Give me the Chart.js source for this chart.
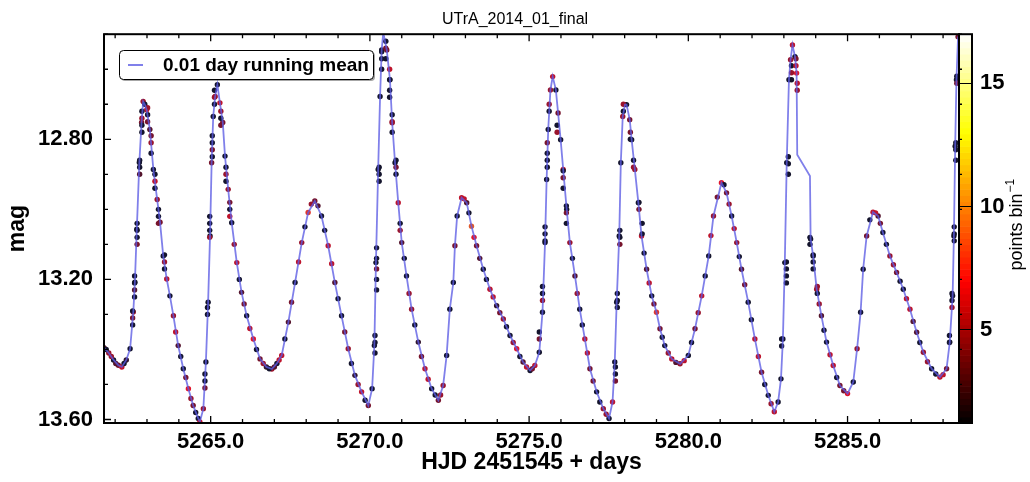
<!DOCTYPE html>
<html>
<head>
<meta charset="utf-8">
<script src="https://cdn.jsdelivr.net/npm/chart.js@4.4.1/dist/chart.umd.min.js"></script>
<style>
  html, body { margin: 0; padding: 0; background: #fff; }
  #wrap { width: 1030px; height: 482px; position: relative; }
</style>
</head>
<body>
<div id="wrap"><canvas id="lc"></canvas></div>
<script>
// axis ranges and tick labels
const plotTitle = "UTrA_2014_01_final";
const xMin = 5261.65, xMax = 5288.50;
const yMin = 12.50, yMax = 13.61;
const cbMin = 1.2, cbMax = 17;
const xTicks = [5265, 5270, 5275, 5280, 5285];
const yTicks = [12.80, 13.20, 13.60];
const cbTicks = [5, 10, 15];

// 0.01 day running mean (HJD-2451545, mag)
const curveTime = [
  5261.65, 5261.80, 5261.95, 5262.10, 5262.21, 5262.35, 5262.47, 5262.57, 5262.62, 5262.68,
  5262.76, 5262.83, 5262.88, 5262.93, 5262.99, 5263.09, 5263.20, 5263.32, 5263.41, 5263.51,
  5263.62, 5263.72, 5263.83, 5263.98, 5264.14, 5264.30, 5264.45, 5264.61, 5264.66, 5264.77,
  5264.85, 5264.92, 5264.98, 5265.03, 5265.08, 5265.14, 5265.21, 5265.29, 5265.38, 5265.45,
  5265.55, 5265.66, 5265.82, 5265.97, 5266.13, 5266.34, 5266.55, 5266.75, 5266.92, 5267.08,
  5267.23, 5267.44, 5267.65, 5267.86, 5268.06, 5268.27, 5268.48, 5268.69, 5268.90, 5269.11,
  5269.32, 5269.53, 5269.74, 5269.95, 5270.07, 5270.14, 5270.19, 5270.26, 5270.32, 5270.37,
  5270.42, 5270.53, 5270.63, 5270.70, 5270.79, 5270.89, 5271.00, 5271.15, 5271.31, 5271.52,
  5271.73, 5271.94, 5272.15, 5272.30, 5272.41, 5272.51, 5272.62, 5272.67, 5272.74, 5272.88,
  5273.04, 5273.19, 5273.35, 5273.56, 5273.77, 5273.98, 5274.19, 5274.40, 5274.61, 5274.81,
  5275.03, 5275.18, 5275.32, 5275.42, 5275.50, 5275.55, 5275.60, 5275.67, 5275.74, 5275.84,
  5275.91, 5275.99, 5276.07, 5276.18, 5276.28, 5276.44, 5276.59, 5276.75, 5276.91, 5277.12,
  5277.33, 5277.51, 5277.62, 5277.69, 5277.75, 5277.83, 5277.88, 5277.94, 5278.01, 5278.06,
  5278.16, 5278.22, 5278.32, 5278.43, 5278.53, 5278.69, 5278.85, 5279.00, 5279.11, 5279.26,
  5279.48, 5279.74, 5280.00, 5280.21, 5280.42, 5280.64, 5280.79, 5281.04, 5281.20, 5281.36,
  5281.52, 5281.67, 5281.88, 5282.09, 5282.30, 5282.51, 5282.70, 5282.82, 5282.91, 5282.97,
  5283.03, 5283.09, 5283.16, 5283.21, 5283.27, 5283.35, 5283.40, 5283.42, 5283.82, 5283.84,
  5283.92, 5284.03, 5284.18, 5284.34, 5284.55, 5284.76, 5285.00, 5285.18, 5285.30, 5285.41,
  5285.49, 5285.60, 5285.80, 5285.96, 5286.11, 5286.33, 5286.54, 5286.75, 5286.96, 5287.17,
  5287.38, 5287.64, 5287.90, 5288.11, 5288.21, 5288.30, 5288.34, 5288.38, 5288.42, 5288.47
];
const curveMag = [
  13.395, 13.410, 13.430, 13.445, 13.450, 13.430, 13.398, 13.293, 13.208, 13.057,
  12.866, 12.752, 12.692, 12.700, 12.716, 12.772, 12.886, 12.972, 13.037, 13.133,
  13.199, 13.247, 13.304, 13.389, 13.455, 13.512, 13.560, 13.597, 13.607, 13.569,
  13.436, 13.265, 13.076, 12.867, 12.735, 12.678, 12.644, 12.696, 12.752, 12.848,
  12.943, 13.038, 13.152, 13.237, 13.304, 13.370, 13.427, 13.450, 13.456, 13.440,
  13.417, 13.322, 13.209, 13.095, 13.009, 12.976, 13.019, 13.104, 13.209, 13.304,
  13.398, 13.474, 13.521, 13.560, 13.512, 13.389, 13.152, 12.886, 12.678, 12.545,
  12.495, 12.545, 12.630, 12.753, 12.867, 12.981, 13.095, 13.190, 13.285, 13.379,
  13.455, 13.512, 13.545, 13.503, 13.417, 13.285, 13.209, 13.104, 13.019, 12.967,
  12.981, 13.048, 13.104, 13.171, 13.228, 13.275, 13.313, 13.360, 13.398, 13.436,
  13.460, 13.446, 13.408, 13.294, 13.095, 12.915, 12.772, 12.659, 12.621, 12.659,
  12.725, 12.801, 12.886, 13.000, 13.095, 13.190, 13.285, 13.370, 13.455, 13.521,
  13.569, 13.597, 13.550, 13.436, 13.265, 13.076, 12.867, 12.735, 12.701, 12.701,
  12.744, 12.801, 12.886, 12.981, 13.076, 13.171, 13.247, 13.294, 13.341, 13.389,
  13.427, 13.441, 13.417, 13.341, 13.247, 13.133, 13.019, 12.924, 12.953, 13.019,
  13.095, 13.171, 13.265, 13.370, 13.465, 13.531, 13.578, 13.550, 13.484, 13.370,
  13.152, 12.867, 12.630, 12.573, 12.531, 12.564, 12.611, 12.844, 12.905, 13.085,
  13.133, 13.228, 13.304, 13.379, 13.446, 13.503, 13.526, 13.493, 13.398, 13.294,
  13.171, 13.076, 13.008, 13.019, 13.066, 13.133, 13.180, 13.228, 13.285, 13.351,
  13.408, 13.455, 13.479, 13.455, 13.379, 13.247, 13.076, 12.820, 12.630, 12.507
];
// points per bin at each sample (0 = no observation there)
const curveCount = [
  3, 5, 1, 4, 6, 2, 1, 5, 1, 1,
  1, 4, 5, 1, 6, 3, 1, 5, 4, 1,
  6, 1, 5, 3, 1, 7, 4, 1, 6, 5,
  1, 1, 1, 4, 1, 5, 1, 6, 4, 1,
  5, 1, 6, 3, 1, 7, 4, 2, 5, 1,
  6, 3, 1, 5, 8, 4, 1, 6, 3, 1,
  5, 2, 6, 4, 1, 1, 1, 1, 1, 1,
  1, 4, 1, 5, 1, 6, 3, 1, 5, 2,
  6, 1, 4, 5, 1, 1, 1, 4, 1, 6,
  3, 9, 4, 1, 6, 2, 5, 1, 7, 3,
  1, 6, 1, 1, 1, 1, 1, 5, 6, 1,
  4, 1, 6, 1, 5, 3, 1, 6, 4, 1,
  5, 1, 6, 1, 1, 1, 1, 5, 6, 1,
  4, 1, 5, 1, 6, 3, 1, 8, 4, 1,
  6, 5, 1, 4, 6, 1, 5, 7, 4, 1,
  5, 3, 1, 6, 4, 1, 6, 1, 1, 1,
  1, 1, 1, 5, 6, 1, 7, 0, 0, 1,
  1, 5, 3, 1, 6, 4, 7, 1, 5, 1,
  1, 4, 6, 3, 1, 5, 4, 1, 6, 3,
  5, 1, 6, 4, 1, 1, 1, 1, 1, 4
];

// further observations along the slow branches
const fillTime = [
  5261.72, 5261.88, 5262.02, 5262.28, 5263.90, 5264.06, 5264.22, 5264.38, 5264.53,
  5265.74, 5265.90, 5266.05, 5266.23, 5266.44, 5266.65, 5266.84, 5267.00, 5267.15,
  5267.33, 5267.54, 5267.76, 5267.96, 5268.16, 5268.37, 5268.58, 5268.80, 5269.00,
  5269.21, 5269.42, 5269.63, 5269.85,
  5271.08, 5271.23, 5271.41, 5271.62, 5271.83, 5272.05, 5272.22,
  5272.96, 5273.11, 5273.27, 5273.45, 5273.66, 5273.87, 5274.08, 5274.29, 5274.50,
  5274.71, 5274.92, 5275.10,
  5276.36, 5276.51, 5276.67, 5276.83, 5277.01, 5277.22, 5277.42,
  5278.61, 5278.77, 5278.92, 5279.18, 5279.37, 5279.61, 5279.87, 5280.10, 5280.31,
  5280.53, 5280.71, 5280.91, 5281.12, 5281.28, 5281.44, 5281.60, 5281.77, 5281.98,
  5282.20, 5282.40, 5282.60,
  5284.11, 5284.26, 5284.45, 5284.66, 5284.88,
  5285.70, 5285.88, 5286.03, 5286.22, 5286.44, 5286.65, 5286.85, 5287.06, 5287.27,
  5287.51, 5287.77, 5288.00
];
const fillMag = [
  13.400, 13.420, 13.440, 13.440, 13.350, 13.420, 13.480, 13.540, 13.580,
  13.100, 13.200, 13.270, 13.340, 13.400, 13.440, 13.455, 13.450, 13.430,
  13.370, 13.265, 13.150, 13.050, 12.985, 12.990, 13.060, 13.155, 13.255,
  13.350, 13.440, 13.500, 13.545,
  13.140, 13.240, 13.330, 13.420, 13.485, 13.530, 13.530,
  12.970, 13.010, 13.080, 13.140, 13.200, 13.250, 13.295, 13.335, 13.380,
  13.420, 13.450, 13.455,
  13.140, 13.240, 13.330, 13.410, 13.490, 13.550, 13.585,
  13.125, 13.210, 13.270, 13.365, 13.410, 13.437, 13.432, 13.380, 13.295,
  13.190, 13.075, 12.965, 12.930, 12.985, 13.055, 13.135, 13.215, 13.315,
  13.420, 13.500, 13.555,
  13.270, 13.345, 13.415, 13.480, 13.518,
  13.030, 13.010, 13.040, 13.100, 13.158, 13.205, 13.255, 13.320, 13.380,
  13.435, 13.470, 13.472
];
const fillCount = [
  1, 5, 3, 1, 6, 1, 4, 5, 1,
  5, 1, 4, 6, 1, 5, 1, 3, 6,
  1, 4, 6, 1, 5, 3, 1, 6, 1,
  4, 1, 5, 1,
  1, 5, 1, 4, 6, 1, 5,
  6, 1, 7, 3, 1, 6, 4, 1, 5,
  1, 6, 4,
  1, 5, 1, 6, 4, 1, 5,
  1, 6, 4, 1, 5, 3, 6, 1, 5,
  1, 6, 4, 1, 5, 6, 1, 4, 1,
  6, 1, 5,
  5, 1, 6, 1, 4,
  1, 6, 4, 1, 5, 1, 6, 3, 1,
  5, 1, 6
];

// vertical groups of observations on the steep branches
const stackTime = [
  5262.55, 5262.61, 5262.69, 5262.77, 5262.84, 5263.02, 5263.13, 5263.25, 5263.36, 5263.55,
  5264.82, 5264.90, 5264.97, 5265.05, 5265.12, 5265.32, 5265.48, 5265.60,
  5270.16, 5270.21, 5270.29, 5270.37, 5270.50, 5270.62, 5270.70, 5270.82, 5270.95,
  5275.32, 5275.42, 5275.50, 5275.57, 5275.63, 5275.88, 5276.07, 5276.17,
  5277.71, 5277.77, 5277.85, 5277.96, 5278.18, 5278.28, 5278.45, 5278.55,
  5282.93, 5283.08, 5283.14, 5283.24, 5283.38, 5283.42, 5283.82, 5283.92, 5284.05,
  5288.20, 5288.28, 5288.35, 5288.40, 5288.43
];
const stackMags = [
  [13.29, 13.31, 13.33], [13.19, 13.21, 13.23, 13.25], [13.04, 13.06, 13.08, 13.10], [12.86, 12.88, 12.90],
  [12.72, 12.74, 12.76, 12.78], [12.71, 12.73, 12.75], [12.79, 12.81, 12.84], [12.90, 12.92, 12.94],
  [13.00, 13.02, 13.04], [13.13, 13.15, 13.17],
  [13.47, 13.49, 13.51], [13.28, 13.30], [13.02, 13.04, 13.06, 13.08], [12.79, 12.81, 12.83, 12.85],
  [12.66, 12.68, 12.70], [12.72, 12.74, 12.76], [12.88, 12.90, 12.92], [12.98, 13.00, 13.02],
  [13.36, 13.38, 13.41], [13.11, 13.14, 13.17, 13.20, 13.23], [12.88, 12.90, 12.92], [12.55, 12.57, 12.60],
  [12.52, 12.54, 12.57], [12.60, 12.63, 12.66, 12.68], [12.73, 12.75, 12.78], [12.86, 12.88, 12.90], [13.04, 13.06],
  [13.35, 13.37], [13.22, 13.24, 13.26], [13.05, 13.07, 13.09], [12.81, 12.84, 12.86, 12.88],
  [12.70, 12.72], [12.76, 12.78], [12.89, 12.91, 12.94], [12.99, 13.01, 13.04],
  [13.45, 13.47, 13.49], [13.24, 13.26, 13.28], [13.06, 13.08, 13.10], [12.70, 12.72],
  [12.78, 12.80], [12.86, 12.88], [12.98, 13.00], [13.04, 13.07],
  [13.37, 13.39], [13.15, 13.17, 13.19, 13.21], [12.85, 12.87, 12.90], [12.59, 12.61, 12.63],
  [12.57, 12.59], [12.64, 12.66], [13.08, 13.10], [13.13, 13.15, 13.17], [13.22, 13.24],
  [13.36, 13.38], [13.24, 13.26, 13.28], [13.05, 13.07, 13.09], [12.81, 12.83, 12.86], [12.62, 12.64]
];
const stackCounts = [
  [1, 4, 1], [1, 1, 3, 1], [1, 1, 1, 4], [1, 1, 3],
  [1, 5, 1, 1], [5, 1, 4], [4, 5, 1], [1, 6, 1],
  [1, 1, 4], [1, 5, 1],
  [1, 1, 4], [1, 1], [1, 1, 1, 5], [1, 1, 4, 1],
  [1, 5, 1], [5, 1, 4], [1, 5, 1], [4, 1, 6],
  [1, 1, 1], [1, 1, 4, 1, 1], [1, 1, 1], [1, 1, 1],
  [1, 4, 1], [6, 1, 1, 1], [1, 5, 1], [1, 4, 1], [1, 5],
  [1, 4], [1, 1, 5], [1, 1, 1], [4, 1, 1, 1],
  [5, 1], [1, 5], [1, 4, 1], [1, 4, 1],
  [1, 1, 4], [1, 1, 1], [1, 1, 4], [5, 1],
  [4, 1], [1, 5], [1, 4], [1, 1],
  [1, 1], [1, 1, 1, 1], [1, 1, 1], [1, 5, 1],
  [4, 6], [6, 5], [1, 1], [1, 1, 1], [5, 1],
  [1, 1], [1, 1, 5], [1, 1, 1], [1, 1, 1], [1, 4]
];

const lineColor = 'rgba(92, 92, 228, 0.78)';
const cbStep = 0.25;

// matplotlib-like "hot" map over the colour bar range
function hot(n) {
  let f = (n - cbMin) / (cbMax - cbMin);
  f = Math.max(0, Math.min(1, f));
  const r = Math.min(1, f / 0.365);
  const g = Math.max(0, Math.min(1, (f - 0.365) / 0.381));
  const b = Math.max(0, Math.min(1, (f - 0.746) / 0.254));
  return [r * 255, g * 255, b * 255];
}
function dotColor(n) {
  const c = hot(n);
  // dots sit under the blue running mean, so they pick up a little of its tint
  const mix = [100, 100, 220];
  return 'rgb(' + c.map((v, i) => Math.round(v * 0.8 + mix[i] * 0.2)).join(',') + ')';
}

// build datasets
const lineData = curveTime.map((t, i) => ({x: t, y: curveMag[i]}));
const obsData = [];
const obsColors = [];
curveTime.forEach((t, i) => {
  if (curveCount[i] > 0) {
    obsData.push({x: t, y: curveMag[i]});
    obsColors.push(dotColor(curveCount[i]));
  }
});
fillTime.forEach((t, i) => {
  obsData.push({x: t, y: fillMag[i]});
  obsColors.push(dotColor(fillCount[i]));
});
stackTime.forEach((t, i) => {
  stackMags[i].forEach((m, j) => {
    obsData.push({x: t, y: m});
    obsColors.push(dotColor(stackCounts[i][j]));
  });
});

// frame, inward ticks, colour bar and legend
const decor = {
  id: 'decor',
  afterDraw(chart) {
    const {ctx, chartArea: a, scales} = chart;
    const xs = scales.x, ys = scales.y, cb = scales.cb;
    const cbW = 13;
    ctx.save();

    // colour bar
    for (let v = cbMin; v < cbMax; v += cbStep) {
      const yTop = cb.getPixelForValue(Math.min(cbMax, v + cbStep));
      const yBot = cb.getPixelForValue(v);
      const c = hot(v + cbStep / 2);
      ctx.fillStyle = 'rgb(' + c.map(Math.round).join(',') + ')';
      ctx.fillRect(a.right, yTop, cbW, yBot - yTop + 0.6);
    }
    ctx.strokeStyle = '#000';
    ctx.lineWidth = 1;
    cbTicks.forEach(v => {
      const y = Math.round(cb.getPixelForValue(v)) + 0.5;
      ctx.beginPath();
      ctx.moveTo(a.right, y);
      ctx.lineTo(a.right + cbW, y);
      ctx.stroke();
    });

    // inward ticks
    ctx.lineWidth = 1.3;
    ctx.beginPath();
    for (let d = Math.ceil(xMin); d <= xMax; d++) {
      const px = xs.getPixelForValue(d);
      const len = xTicks.includes(d) ? 7 : 4;
      ctx.moveTo(px, a.bottom); ctx.lineTo(px, a.bottom - len);
      ctx.moveTo(px, a.top); ctx.lineTo(px, a.top + len);
    }
    for (let k = Math.ceil(yMin * 10); k <= Math.floor(yMax * 10); k++) {
      const m = k / 10;
      const py = ys.getPixelForValue(m);
      const major = yTicks.some(t => Math.abs(t - m) < 1e-6);
      const len = major ? 7 : 4;
      ctx.moveTo(a.left, py); ctx.lineTo(a.left + len, py);
      ctx.moveTo(a.right, py); ctx.lineTo(a.right + 3, py);
    }
    ctx.stroke();

    // frame
    ctx.lineWidth = 2;
    ctx.strokeRect(a.left, a.top, a.right - a.left, a.bottom - a.top);
    ctx.strokeRect(a.right, a.top, cbW, a.bottom - a.top);

    // colour bar label with superscript
    ctx.fillStyle = '#000';
    ctx.translate(1022, (a.top + a.bottom) / 2 - 4);
    ctx.rotate(-Math.PI / 2);
    ctx.textBaseline = 'alphabetic';
    ctx.font = "18px 'Liberation Sans', Arial, sans-serif";
    const main = 'points bin';
    const w1 = ctx.measureText(main).width;
    ctx.font = "12px 'Liberation Sans', Arial, sans-serif";
    const sup = '\u22121';
    const w2 = ctx.measureText(sup).width;
    const x0 = -(w1 + w2 + 1) / 2;
    ctx.font = "18px 'Liberation Sans', Arial, sans-serif";
    ctx.fillText(main, x0, 0);
    ctx.font = "12px 'Liberation Sans', Arial, sans-serif";
    ctx.fillText(sup, x0 + w1 + 1, -8);
    ctx.restore();

    // legend box
    ctx.save();
    const lx = 119.5, ly = 50.5, lw = 254, lh = 29;
    ctx.fillStyle = 'rgba(0,0,0,0.35)';
    ctx.beginPath();
    ctx.roundRect(lx + 1.5, ly + 1.5, lw, lh, 4);
    ctx.fill();
    ctx.fillStyle = '#fff';
    ctx.strokeStyle = '#000';
    ctx.lineWidth = 1;
    ctx.beginPath();
    ctx.roundRect(lx, ly, lw, lh, 4);
    ctx.fill();
    ctx.stroke();
    ctx.strokeStyle = lineColor;
    ctx.lineWidth = 2;
    ctx.beginPath();
    ctx.moveTo(128, 65); ctx.lineTo(143, 65);
    ctx.stroke();
    ctx.fillStyle = '#000';
    ctx.font = "bold 19px 'Liberation Sans', Arial, sans-serif";
    ctx.textBaseline = 'middle';
    ctx.fillText('0.01 day running mean', 163, 65.5);
    ctx.restore();
  }
};

Chart.defaults.font.family = "'Liberation Sans', Arial, sans-serif";
Chart.defaults.color = '#000';

new Chart(document.getElementById('lc'), {
  type: 'scatter',
  data: {
    datasets: [
      {
        label: '0.01 day running mean',
        data: lineData,
        showLine: true,
        borderColor: lineColor,
        borderWidth: 1.8,
        pointRadius: 0,
        tension: 0,
        clip: 0,
        order: 0
      },
      {
        label: 'observations',
        data: obsData,
        showLine: false,
        pointRadius: 2.7,
        pointBorderWidth: 0,
        pointBackgroundColor: obsColors,
        clip: 0,
        order: 1
      }
    ]
  },
  options: {
    responsive: true,
    maintainAspectRatio: false,
    animation: false,
    devicePixelRatio: 1,
    layout: {padding: 0},
    plugins: {
      legend: {display: false},
      tooltip: {enabled: false},
      title: {
        display: true,
        text: plotTitle,
        font: {size: 16, weight: 'normal'},
        color: '#000',
        padding: {top: 9, bottom: 5}
      }
    },
    scales: {
      x: {
        type: 'linear',
        position: 'bottom',
        min: xMin,
        max: xMax,
        afterBuildTicks: s => { s.ticks = xTicks.map(v => ({value: v})); },
        afterFit: s => { s.height = 59; },
        grid: {display: false, drawTicks: false},
        border: {display: false},
        ticks: {font: {size: 22, weight: 'bold'}, padding: 6, maxRotation: 0, autoSkip: false,
                callback: v => v.toFixed(1)},
        title: {display: true, text: 'HJD 2451545 + days', font: {size: 23, weight: 'bold'},
                padding: {top: 0, bottom: 6}}
      },
      y: {
        type: 'linear',
        position: 'left',
        reverse: true,
        min: yMin,
        max: yMax,
        afterBuildTicks: s => { s.ticks = yTicks.map(v => ({value: v})); },
        afterFit: s => { s.width = 104; },
        grid: {display: false, drawTicks: false},
        border: {display: false},
        ticks: {font: {size: 22, weight: 'bold'}, padding: 11, callback: v => v.toFixed(2)},
        title: {display: true, text: 'mag', font: {size: 23, weight: 'bold'},
                padding: {top: 4, bottom: 0}}
      },
      cb: {
        type: 'linear',
        position: 'right',
        min: cbMin,
        max: cbMax,
        afterBuildTicks: s => { s.ticks = cbTicks.map(v => ({value: v})); },
        afterFit: s => { s.width = 71; },
        grid: {display: false, drawTicks: false},
        border: {display: false},
        ticks: {font: {size: 22, weight: 'bold'}, padding: 21, callback: v => String(v)}
      }
    }
  },
  plugins: [decor]
});
</script>
</body>
</html>
